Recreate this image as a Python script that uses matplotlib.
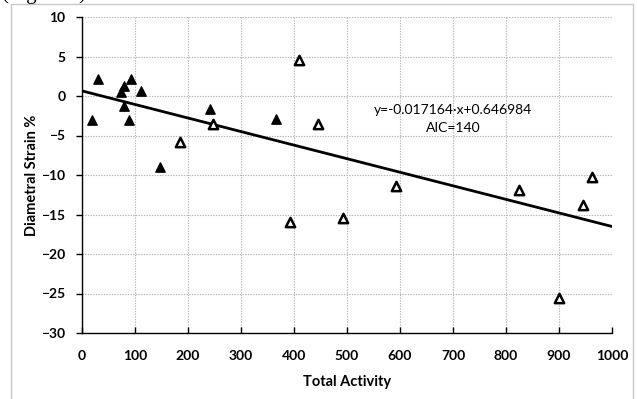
import matplotlib
matplotlib.use("Agg")
import matplotlib.pyplot as plt
from matplotlib.patches import Rectangle
import numpy as np

plt.rcParams['font.family'] = ['Lato', 'DejaVu Sans']

# Data
filled_x = [19, 31, 73, 80, 80, 89, 93, 111, 148, 241, 366]
filled_y = [-3.0, 2.2, 0.5, 1.3, -1.3, -3.0, 2.2, 0.6, -9.0, -1.7, -2.9]
open_x = [185, 248, 392, 409, 445, 492, 593, 825, 900, 946, 963]
open_y = [-5.8, -3.5, -15.9, 4.5, -3.5, -15.4, -11.4, -11.9, -25.6, -13.8, -10.3]
slope = -0.017164
intercept = 0.646984
fit_x = [0, 1000]
eq_text = "y=-0.017164\u00b7x+0.646984"
aic_text = "AIC=140"
x_ticks = list(range(0, 1001, 100))
y_ticks = list(range(-30, 11, 5))

fig = plt.figure(figsize=(6.37, 3.99), dpi=100)
W, H = 637, 399
fig.patches.append(Rectangle((11 / W, -0.05), (633 - 11) / W, 1.05 - 4 / H,
                             transform=fig.transFigure, fill=False,
                             edgecolor='#c8c8c8', linewidth=1.0))
fig.text(2 / W, 1.0 + 1 / H, "(Figure 9)", fontsize=15, va='baseline', ha='left',
         family=['Liberation Serif'])

ax = fig.add_axes([82 / W, 1 - 333 / H, (612 - 82) / W, (333 - 17) / H])
ax.set_xlim(0, 1000)
ax.set_ylim(-30, 10)
ax.set_xticks(x_ticks)
ax.set_yticks(y_ticks)
ax.grid(True, color='#b4b4b4', linestyle=(0, (1.2, 1.2)), linewidth=0.8)
ax.set_axisbelow(True)
for s in ['top', 'right']:
    ax.spines[s].set_visible(False)
for s in ['left', 'bottom']:
    ax.spines[s].set_color('black')
    ax.spines[s].set_linewidth(1.0)
ax.tick_params(axis='x', direction='in', length=4, width=1, pad=12)
ax.tick_params(axis='y', direction='out', length=4, width=1, pad=8)
for lab in ax.get_xticklabels() + ax.get_yticklabels():
    lab.set_fontweight('bold')
    lab.set_fontsize(10)

fx = np.array(fit_x, dtype=float)
ax.plot(fx, slope * fx + intercept, color='black', linewidth=2, zorder=3)
ax.scatter(filled_x, filled_y, marker='^', s=45, color='black', zorder=4)
ax.scatter(open_x, open_y, marker='^', s=45, facecolors='white',
           edgecolors='black', linewidths=1.8, zorder=4)

ax.text(700, -1.75, eq_text, ha='center', va='center', fontsize=10)
ax.text(700, -4.0, aic_text, ha='center', va='center', fontsize=10)

ax.set_xlabel("Total Activity", fontsize=10.5, fontweight='bold')
ax.set_ylabel("Diametral Strain %", fontsize=10.5, fontweight='bold')
ax.xaxis.set_label_coords(0.5, (333 - 382) / 316)
ax.yaxis.set_label_coords((32 - 82) / 530, 0.5)
ax.xaxis.label.set_va('center')
ax.yaxis.label.set_va('center')

fig.savefig("out.png", dpi=100)
